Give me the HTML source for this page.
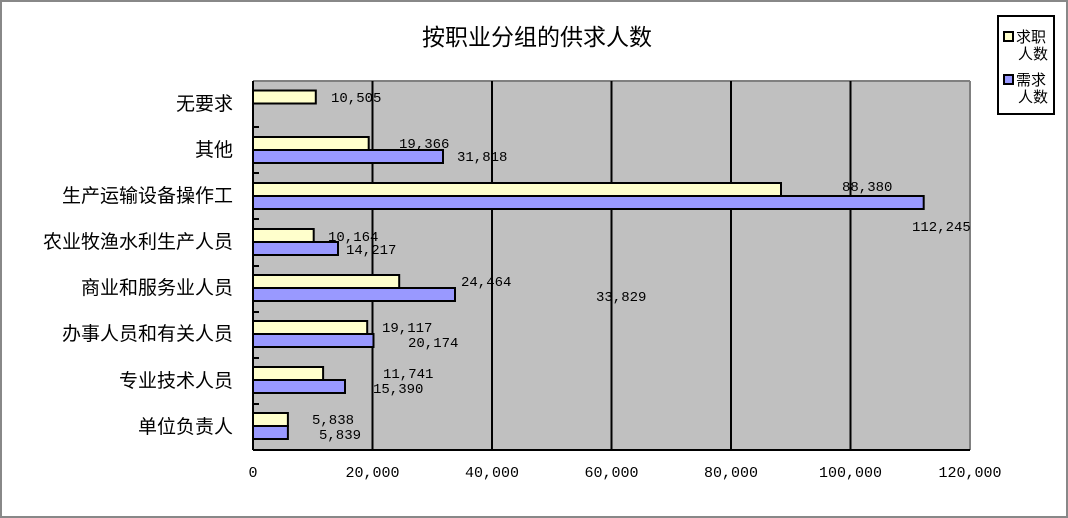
<!DOCTYPE html>
<html><head><meta charset="utf-8"><style>
body{margin:0;background:#fff}
svg{display:block}
text{font-family:"Liberation Sans","Noto Sans CJK SC",sans-serif;fill:#000}
text.l{font-family:"Liberation Mono","Noto Sans CJK SC",monospace;font-size:14px}
text.t{font-family:"Liberation Mono","Noto Sans CJK SC",monospace;font-size:15px}
text.c{font-family:"Noto Sans CJK SC",sans-serif;font-size:19px}
</style></head><body>
<svg width="1068" height="518" xmlns="http://www.w3.org/2000/svg">
<rect x="1" y="1" width="1066" height="516" fill="#fff" stroke="#888" stroke-width="2"/>
<text x="537" y="45" style="font-family:'Noto Sans CJK SC',sans-serif;font-size:23px" text-anchor="middle">按职业分组的供求人数</text>
<rect x="253" y="81" width="717" height="369" fill="#c0c0c0"/>
<line x1="253" y1="81" x2="970" y2="81" stroke="#808080" stroke-width="2"/>
<line x1="970" y1="81" x2="970" y2="450" stroke="#808080" stroke-width="2"/>
<g stroke="#000" stroke-width="2">
<line x1="372.5" y1="81" x2="372.5" y2="450"/><line x1="492" y1="81" x2="492" y2="450"/>
<line x1="611.5" y1="81" x2="611.5" y2="450"/><line x1="731" y1="81" x2="731" y2="450"/>
<line x1="850.5" y1="81" x2="850.5" y2="450"/>
<line x1="253" y1="450" x2="970" y2="450"/><line x1="253" y1="81" x2="253" y2="450"/>
<line x1="253" y1="127" x2="259" y2="127"/><line x1="253" y1="173" x2="259" y2="173"/>
<line x1="253" y1="219" x2="259" y2="219"/><line x1="253" y1="266" x2="259" y2="266"/>
<line x1="253" y1="312" x2="259" y2="312"/><line x1="253" y1="358" x2="259" y2="358"/>
<line x1="253" y1="404" x2="259" y2="404"/>
</g>
<g stroke="#000" stroke-width="2">
<rect x="253" y="90.5" width="62.8" height="13" fill="#ffffcc"/>
<rect x="253" y="137" width="115.7" height="13" fill="#ffffcc"/>
<rect x="253" y="150" width="190" height="13" fill="#9999ff"/>
<rect x="253" y="183" width="528" height="13" fill="#ffffcc"/>
<rect x="253" y="196" width="670.7" height="13" fill="#9999ff"/>
<rect x="253" y="229" width="60.7" height="13" fill="#ffffcc"/>
<rect x="253" y="242" width="85" height="13" fill="#9999ff"/>
<rect x="253" y="275" width="146.2" height="13" fill="#ffffcc"/>
<rect x="253" y="288" width="202" height="13" fill="#9999ff"/>
<rect x="253" y="321" width="114.2" height="13" fill="#ffffcc"/>
<rect x="253" y="334" width="120.5" height="13" fill="#9999ff"/>
<rect x="253" y="367" width="70.1" height="13" fill="#ffffcc"/>
<rect x="253" y="380" width="92" height="13" fill="#9999ff"/>
<rect x="253" y="413" width="34.9" height="13" fill="#ffffcc"/>
<rect x="253" y="426" width="34.9" height="13" fill="#9999ff"/>
</g>
<text class="l" x="331" y="102">10,505</text>
<text class="l" x="399" y="148">19,366</text><text class="l" x="457" y="161">31,818</text>
<text class="l" x="842" y="191">88,380</text><text class="l" x="912" y="231">112,245</text>
<text class="l" x="328" y="241">10,164</text><text class="l" x="346" y="254">14,217</text>
<text class="l" x="461" y="286">24,464</text><text class="l" x="596" y="301">33,829</text>
<text class="l" x="382" y="332">19,117</text><text class="l" x="408" y="347">20,174</text>
<text class="l" x="383" y="378">11,741</text><text class="l" x="373" y="393">15,390</text>
<text class="l" x="312" y="424">5,838</text><text class="l" x="319" y="439">5,839</text>
<g text-anchor="middle">
<text class="t" x="253" y="477">0</text>
<text class="t" x="372.5" y="477">20,000</text>
<text class="t" x="492" y="477">40,000</text>
<text class="t" x="611.5" y="477">60,000</text>
<text class="t" x="731" y="477">80,000</text>
<text class="t" x="850.5" y="477">100,000</text>
<text class="t" x="970" y="477">120,000</text>
</g>
<g text-anchor="end">
<text class="c" x="233" y="110">无要求</text>
<text class="c" x="233" y="156">其他</text>
<text class="c" x="233" y="202">生产运输设备操作工</text>
<text class="c" x="233" y="248">农业牧渔水利生产人员</text>
<text class="c" x="233" y="294">商业和服务业人员</text>
<text class="c" x="233" y="340">办事人员和有关人员</text>
<text class="c" x="233" y="387">专业技术人员</text>
<text class="c" x="233" y="433">单位负责人</text>
</g>
<rect x="998" y="16" width="56" height="98" fill="#fff" stroke="#000" stroke-width="2"/>
<rect x="1004" y="32" width="9" height="9" fill="#ffffcc" stroke="#000" stroke-width="2"/>
<rect x="1004" y="75" width="9" height="9" fill="#9999ff" stroke="#000" stroke-width="2"/>
<text x="1016" y="42" style="font-size:15px">求职</text><text x="1018" y="59" style="font-size:15px">人数</text>
<text x="1016" y="85" style="font-size:15px">需求</text><text x="1018" y="102" style="font-size:15px">人数</text>
</svg>
</body></html>
